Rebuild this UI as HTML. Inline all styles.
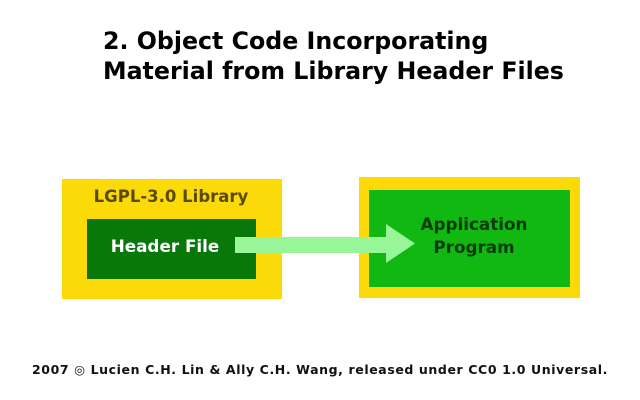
<!DOCTYPE html>
<html><head><meta charset="utf-8"><style>
html,body{margin:0;padding:0;background:#fff;width:640px;height:400px;overflow:hidden}
body{position:relative;font-family:"DejaVu Sans","Liberation Sans",sans-serif}
div{position:absolute;box-sizing:border-box}
.t{font-weight:bold;white-space:nowrap}
</style></head><body>
<div class="t" style="left:103px;top:26px;font-size:23.7px;line-height:30px;color:#000">2. Object Code Incorporating<br>Material from Library Header Files</div>
<div style="left:62px;top:179px;width:220px;height:120px;background:#fcd908"></div>
<div class="t" style="left:62px;top:187px;width:218px;text-align:center;font-size:16.5px;color:#5a4a08">LGPL-3.0 Library</div>
<div style="left:87px;top:219px;width:169px;height:60px;background:#08780a"></div>
<div class="t" style="left:87px;top:236px;width:156px;text-align:center;font-size:16.8px;color:#fff">Header File</div>
<div style="left:359px;top:177px;width:221px;height:121px;background:#fcd908"></div>
<div style="left:369px;top:190px;width:201px;height:97px;background:#12b812"></div>
<div class="t" style="left:384px;top:213px;width:180px;text-align:center;font-size:16.8px;line-height:23px;color:#063a06">Application<br>Program</div>
<svg style="position:absolute;left:0;top:0" width="640" height="400"><polygon points="235,237 386,237 386,224 415,243.5 386,263 386,253 235,253" fill="#98f598"/></svg>
<div class="t" style="left:32px;top:362px;font-size:12.5px;letter-spacing:0.6px;color:#111">2007 ◎ Lucien C.H. Lin &amp; Ally C.H. Wang, released under CC0 1.0 Universal.</div>
</body></html>
